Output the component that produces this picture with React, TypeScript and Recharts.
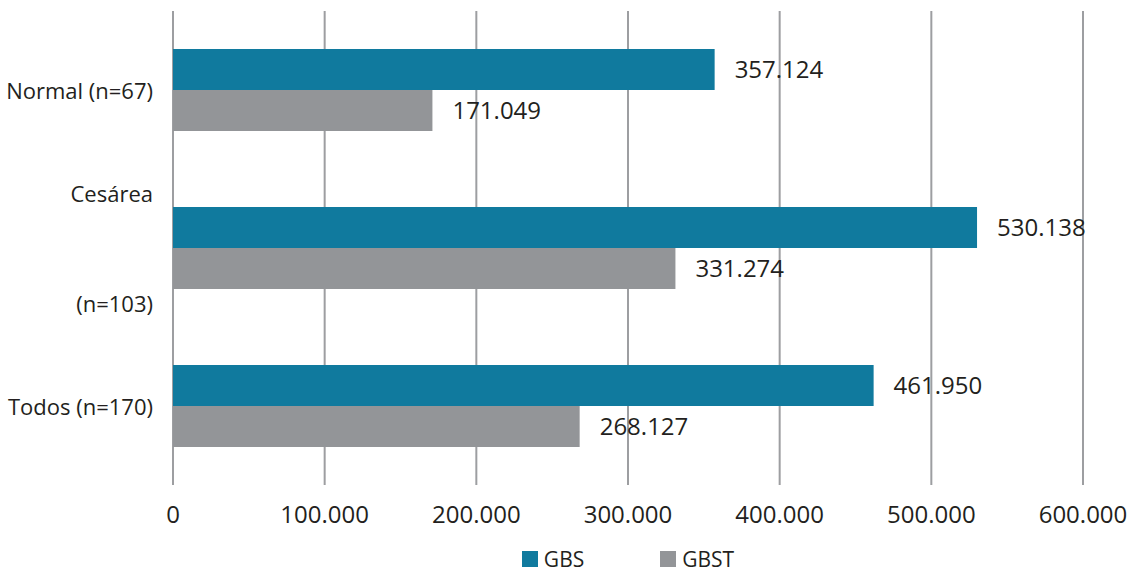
import { BarChart, Bar, XAxis, YAxis, CartesianGrid, LabelList, Legend } from "recharts";

const CATEGORIES = ["Normal (n=67)", "Cesárea\n(n=103)", "Todos (n=170)"];
const GBS = [357124, 530138, 461950];
const GBST = [171049, 331274, 268127];
const X_TICKS = [0, 100000, 200000, 300000, 400000, 500000, 600000];

const SERIES = [
  { key: "GBS", color: "#107a9e" },
  { key: "GBST", color: "#939598" },
];

const FONT = "'Open Sans', sans-serif";
const TEXT = "#231f20";

const data = CATEGORIES.map((name, i) => ({ name, GBS: GBS[i], GBST: GBST[i] }));

const fmt = (v: number) => v.toLocaleString("pt-BR");

function CategoryTick({ x, y, payload }: any) {
  const lines = String(payload.value).split("\n");
  // two-line labels sit well above and below the bar pair
  const gap = 110;
  const start = y - ((lines.length - 1) * gap) / 2;
  return (
    <g>
      {lines.map((l, i) => (
        <text
          key={i}
          x={x + 6}
          y={start + i * gap}
          textAnchor="end"
          dominantBaseline="central"
          fontFamily={FONT}
          fontSize={22}
          fill={TEXT}
        >
          {l}
        </text>
      ))}
    </g>
  );
}

function LegendContent() {
  return (
    <div
      style={{
        display: "flex",
        justifyContent: "center",
        gap: 76,
        paddingTop: 10,
        fontFamily: FONT,
        fontSize: 21,
        color: TEXT,
      }}
    >
      {SERIES.map((s) => (
        <span key={s.key} style={{ display: "flex", alignItems: "center", gap: 6 }}>
          <span style={{ display: "inline-block", width: 16, height: 16, background: s.color }} />
          {s.key}
        </span>
      ))}
    </div>
  );
}

export default function App() {
  return (
    <div style={{ position: "absolute", left: 0, top: 0, background: "#fff" }}>
      <BarChart
        width={1129}
        height={573}
        data={data}
        layout="vertical"
        margin={{ top: 11, right: 46, bottom: 0, left: 0 }}
        barCategoryGap={38}
        barGap={0}
      >
        <CartesianGrid horizontal={false} stroke="#9d9ea1" strokeWidth={2} />
        <XAxis
          type="number"
          domain={[0, 600000]}
          ticks={X_TICKS}
          tickFormatter={fmt}
          axisLine={false}
          tickLine={false}
          tickMargin={15}
          height={50}
          tick={{ fontFamily: FONT, fontSize: 24, fill: TEXT }}
        />
        <YAxis
          type="category"
          dataKey="name"
          width={173}
          axisLine={false}
          tickLine={false}
          tickMargin={20}
          tick={<CategoryTick />}
        />
        <Legend
          verticalAlign="bottom"
          height={38}
          wrapperStyle={{ left: 173, width: 910 }}
          content={<LegendContent />}
        />
        {SERIES.map((s) => (
          <Bar key={s.key} dataKey={s.key} fill={s.color} isAnimationActive={false}>
            <LabelList
              dataKey={s.key}
              position="right"
              offset={20}
              formatter={(v: any) => fmt(Number(v))}
              style={{ fontFamily: FONT, fontSize: 24, fill: TEXT }}
            />
          </Bar>
        ))}
      </BarChart>
    </div>
  );
}
